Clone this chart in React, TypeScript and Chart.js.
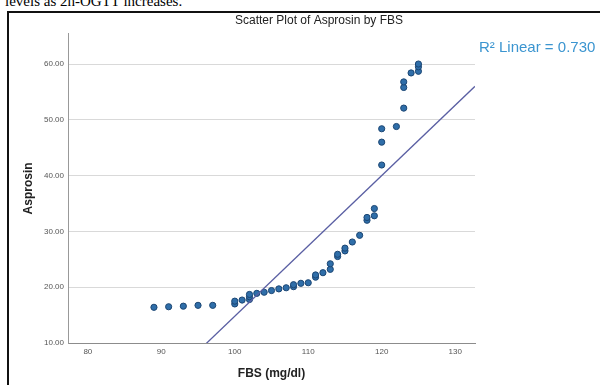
import React, { useEffect, useRef } from "react";
import { Chart, registerables } from "chart.js";

Chart.register(...registerables);

const FBS = [89, 91, 93, 95, 97, 100, 100, 101, 102, 102, 102, 103, 104, 105, 106, 107, 108, 108, 109, 110, 111, 111, 112, 113, 113, 114, 114, 115, 115, 116, 117, 118, 118, 119, 119, 120, 120, 120, 122, 123, 123, 123, 124, 125, 125, 125];
const ASPROSIN = [16.4, 16.5, 16.6, 16.75, 16.75, 17.0, 17.5, 17.7, 17.8, 18.3, 18.7, 18.9, 19.1, 19.4, 19.7, 19.9, 20.1, 20.45, 20.7, 20.8, 21.8, 22.2, 22.6, 23.2, 24.2, 25.5, 25.9, 26.5, 27.0, 28.1, 29.3, 32.0, 32.5, 32.8, 34.1, 41.9, 46.0, 48.4, 48.8, 52.1, 55.8, 56.8, 58.4, 58.7, 59.5, 60.0];

// Linear fit line (Asprosin = intercept + slope * FBS)
const FIT_INTERCEPT = -111.2;
const FIT_SLOPE = 1.26;

const X_TICKS = [80, 90, 100, 110, 120, 130];
const Y_TICKS = [10, 20, 30, 40, 50, 60];
const X_MIN = 77.3;
const X_MAX = 132.7;
const Y_MIN = 10;
const Y_MAX = 65.4;

const TITLE = "Scatter Plot of Asprosin by FBS";
const X_TITLE = "FBS (mg/dl)";
const Y_TITLE = "Asprosin";
const FIT_LABEL = "R² Linear = 0.730";
const PAGE_TEXT = "levels as 2h-OGTT increases.";

const SANS = "'Liberation Sans', Arial, sans-serif";

export default function App() {
  const ref = useRef<HTMLCanvasElement | null>(null);

  useEffect(() => {
    if (!ref.current) return;
    const chart = new Chart(ref.current, {
      type: "scatter",
      data: {
        datasets: [
          {
            label: "Linear fit",
            data: [
              { x: X_MIN, y: FIT_INTERCEPT + FIT_SLOPE * X_MIN },
              { x: X_MAX, y: FIT_INTERCEPT + FIT_SLOPE * X_MAX },
            ],
            showLine: true,
            borderColor: "#5a5fa3",
            borderWidth: 1.3,
            pointRadius: 0,
            fill: false,
          } as any,
          {
            label: "Asprosin",
            data: FBS.map((x, i) => ({ x, y: ASPROSIN[i] })),
            backgroundColor: "#2f6ea9",
            borderColor: "#1c4673",
            borderWidth: 1,
            pointRadius: 3.1,
          },
        ],
      },
      options: {
        responsive: false,
        animation: false,
        layout: { padding: 0 },
        plugins: {
          legend: { display: false },
          tooltip: { enabled: false },
          title: {
            display: true,
            text: TITLE,
            color: "#222",
            font: { family: SANS, size: 12, weight: "normal" },
            padding: { top: 0, bottom: 6.5 },
          },
        },
        scales: {
          x: {
            type: "linear",
            position: "bottom",
            min: X_MIN,
            max: X_MAX,
            afterBuildTicks: (s: any) => {
              s.ticks = X_TICKS.map((v) => ({ value: v }));
            },
            afterFit: (s: any) => {
              s.height = 42;
            },
            grid: { display: false, drawTicks: false },
            border: { display: true, color: "#8c8c8c", width: 1 },
            ticks: {
              color: "#555",
              font: { family: SANS, size: 8 },
              padding: 4,
              maxRotation: 0,
              autoSkip: false,
              callback: (v: any) => String(v),
            },
            title: {
              display: true,
              text: X_TITLE,
              color: "#222",
              font: { family: SANS, size: 12, weight: "bold" },
              padding: { top: 0, bottom: 4 },
            },
          },
          y: {
            type: "linear",
            position: "left",
            min: Y_MIN,
            max: Y_MAX,
            afterBuildTicks: (s: any) => {
              s.ticks = Y_TICKS.map((v) => ({ value: v }));
            },
            afterFit: (s: any) => {
              s.width = 59;
            },
            grid: {
              color: (ctx: any) => (ctx.tick && ctx.tick.value === Y_MIN ? "rgba(0,0,0,0)" : "#d9d9d9"),
              drawTicks: false,
              lineWidth: 1,
            },
            border: { display: true, color: "#999", width: 1 },
            ticks: {
              color: "#555",
              font: { family: SANS, size: 8 },
              padding: 4,
              autoSkip: false,
              callback: (v: any) => Number(v).toFixed(2),
            },
            title: {
              display: true,
              text: Y_TITLE,
              color: "#222",
              font: { family: SANS, size: 12, weight: "bold" },
              padding: { top: 12, bottom: 0 },
            },
          },
          y2: {
            type: "linear",
            position: "right",
            display: true,
            grid: { display: false },
            border: { display: false },
            ticks: { display: false },
            afterFit: (s: any) => {
              s.width = 154;
            },
          },
        },
      } as any,
    });
    return () => chart.destroy();
  }, []);

  return (
    <div
      style={{
        position: "fixed",
        left: 0,
        top: 0,
        width: 600,
        height: 385,
        overflow: "hidden",
        background: "#fff",
      }}
    >
      <div
        style={{
          position: "absolute",
          left: 5,
          top: -6,
          fontFamily: "'Liberation Serif', 'Times New Roman', serif",
          fontSize: 15,
          lineHeight: 1,
          whiteSpace: "nowrap",
          color: "#000",
        }}
      >
        {PAGE_TEXT}
      </div>
      <div
        style={{
          position: "absolute",
          left: 7,
          top: 11,
          width: 700,
          height: 500,
          borderLeft: "2px solid #111",
          borderTop: "2px solid #111",
        }}
      />
      <canvas
        ref={ref}
        width={620}
        height={372}
        style={{ position: "absolute", left: 9, top: 13, width: 620, height: 372 }}
      />
      <div
        style={{
          position: "absolute",
          left: 479,
          top: 39,
          fontFamily: SANS,
          fontSize: 15,
          lineHeight: 1,
          whiteSpace: "nowrap",
          color: "#3b95d0",
        }}
      >
        {FIT_LABEL}
      </div>
    </div>
  );
}
